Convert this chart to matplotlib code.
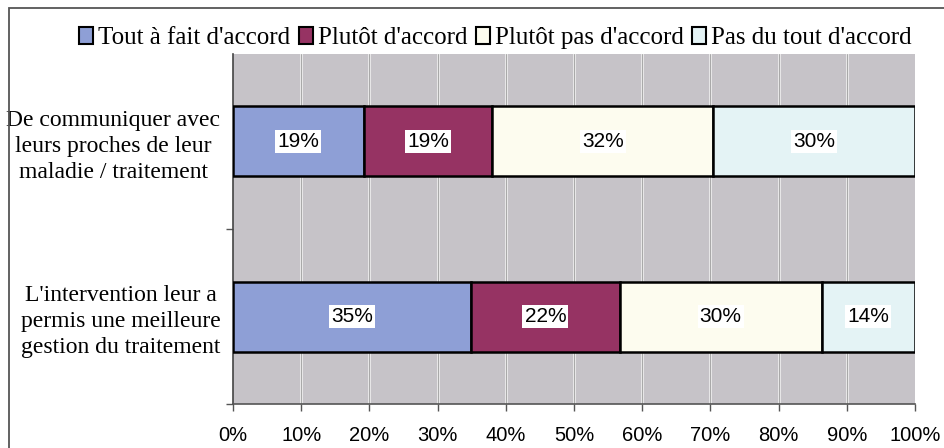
import matplotlib
matplotlib.use("Agg")
import matplotlib.pyplot as plt
from matplotlib.patches import Rectangle
import numpy as np

categories = ["De communiquer avec\nleurs proches de leur\nmaladie / traitement",
              "L'intervention leur a\npermis une meilleure\ngestion du traitement"]
series_names = ["Tout à fait d'accord", "Plutôt d'accord", "Plutôt pas d'accord", "Pas du tout d'accord"]
tout_a_fait = [19.2, 34.9]
plutot = [18.8, 21.8]
plutot_pas = [32.4, 29.6]
pas_du_tout = [29.6, 13.7]
x_ticks = [0, 10, 20, 30, 40, 50, 60, 70, 80, 90, 100]

colors = ["#8e9fd6", "#963363", "#fdfcef", "#e4f3f5"]
series = [tout_a_fait, plutot, plutot_pas, pas_du_tout]

fig = plt.figure(figsize=(9.44, 4.48), dpi=100)
ax = fig.add_axes([233/944, (448-404)/448, (915-233)/944, (404-54)/448])
ax.set_facecolor("#c6c3c8")

y = np.arange(len(categories))
left = np.zeros(len(categories))
handles = []
for vals, col, name in zip(series, colors, series_names):
    vals = np.array(vals)
    ax.barh(y, vals, left=left, height=0.4, color=col, edgecolor="black",
            linewidth=1.8, zorder=3, label=name)
    for yi, v, l in zip(y, vals, left):
        ax.text(l + v/2, yi, f"{v:.0f}%", ha="center", va="center",
                fontsize=15, family="Liberation Sans", zorder=4,
                bbox=dict(facecolor="white", edgecolor="none", pad=1.5))
    left = left + vals
    handles.append(Rectangle((0, 0), 1, 1, facecolor=col, edgecolor="black", linewidth=1.5))

ax.set_xlim(0, 100)
ax.set_ylim(1.5, -0.5)
ax.set_xticks(x_ticks)
ax.set_xticklabels([f"{t}%" for t in x_ticks], fontsize=14.5, family="Liberation Sans")
ax.tick_params(axis="x", length=5, width=1, color="#555555", pad=11)
for t in x_ticks[1:-1]:
    ax.axvline(t, color="#f2f2f2", lw=1.8, zorder=1)
    ax.axvline(t, color="#8a8a8a", lw=0.5, zorder=1.5)

ax.set_yticks(y)
ax.set_yticklabels(categories, fontsize=17, family="Liberation Serif",
                   multialignment="center", linespacing=1.3)
ax.tick_params(axis="y", which="major", length=0, pad=9)
ax.set_yticks([0.5, 1.5], minor=True)
ax.tick_params(axis="y", which="minor", length=5, width=1, color="#555555")

for s in ["top", "right"]:
    ax.spines[s].set_visible(False)
ax.spines["left"].set_color("#444444")
ax.spines["left"].set_linewidth(1.2)
ax.spines["bottom"].set_color("#555555")
ax.spines["bottom"].set_linewidth(1.2)

fig.legend(handles, series_names, loc="center", bbox_to_anchor=(0.525, 0.915), ncol=4,
           frameon=False, handlelength=0.55, handleheight=0.7, columnspacing=0.35,
           handletextpad=0.2, prop=dict(family="Liberation Serif", size=18))

frame = Rectangle((9/944, -0.05), 1.2, 1.05 - 8/448, transform=fig.transFigure,
                  fill=False, edgecolor="#555555", linewidth=1.3, clip_on=False)
fig.patches.append(frame)

fig.savefig("out.png", dpi=100, facecolor="white")
